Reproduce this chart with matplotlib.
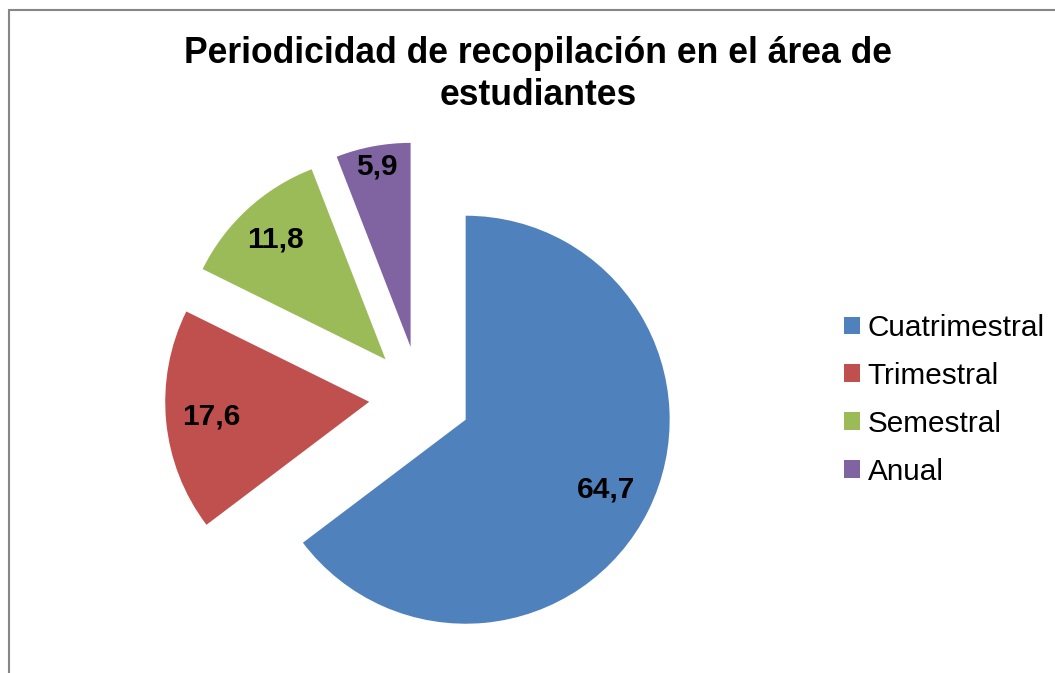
import numpy as np
import matplotlib
matplotlib.use('Agg')
import matplotlib.pyplot as plt
from matplotlib.patches import Rectangle

# datos
categorias = ['Cuatrimestral', 'Trimestral', 'Semestral', 'Anual']
valores = [64.7, 17.6, 11.8, 5.9]
etiquetas = ['64,7', '17,6', '11,8', '5,9']
colores = ['#4F81BD', '#C0504D', '#9BBB59', '#8064A2']

plt.rcParams['font.family'] = ['Liberation Sans', 'DejaVu Sans']

W, H = 1055, 673
fig = plt.figure(figsize=(W / 100, H / 100), dpi=100)
ax = fig.add_axes([0, 0, 1, 1])

# radio del pie en pixeles, centro (pixeles)
R = 204.0
cx, cy = 420.0, 397.0

wedges, _ = ax.pie(valores, colors=colores, startangle=90, counterclock=False,
                   explode=[0.25] * 4, radius=1.0, center=(0, 0),
                   wedgeprops=dict(linewidth=0))

ax.set_xlim(-cx / R, (W - cx) / R)
ax.set_ylim(-(H - cy) / R, cy / R)
ax.set_aspect('auto')
ax.axis('off')

# etiquetas de datos
dist = [0.77, 0.78, 0.80, 0.90]
for w, txt, d in zip(wedges, etiquetas, dist):
    ang = np.deg2rad((w.theta1 + w.theta2) / 2)
    x0, y0 = w.center
    ax.text(x0 + d * np.cos(ang), y0 + d * np.sin(ang), txt,
            ha='center', va='center', fontsize=21.5, fontweight='bold')

# titulo (dos lineas)
fig.text(538 / W, 1 - 63 / H, 'Periodicidad de recopilación en el área de',
         ha='center', va='baseline', fontsize=25.6, fontweight='bold')
fig.text(538 / W, 1 - 105 / H, 'estudiantes',
         ha='center', va='baseline', fontsize=25.6, fontweight='bold')

# leyenda
fig.legend(wedges, categorias, loc='upper left', bbox_to_anchor=(844 / W, 1 - 314 / H),
           frameon=False, fontsize=21.4, handlelength=0.55, handleheight=0.55,
           handletextpad=0.25, labelspacing=0.67, borderpad=0, borderaxespad=0)

# borde del grafico
fig.patches.append(Rectangle((9 / W, -0.1), 1.2, 1 - 10 / H + 0.1, transform=fig.transFigure,
                             fill=False, edgecolor='#868686', linewidth=1.5))

fig.savefig('out.png', dpi=100)
